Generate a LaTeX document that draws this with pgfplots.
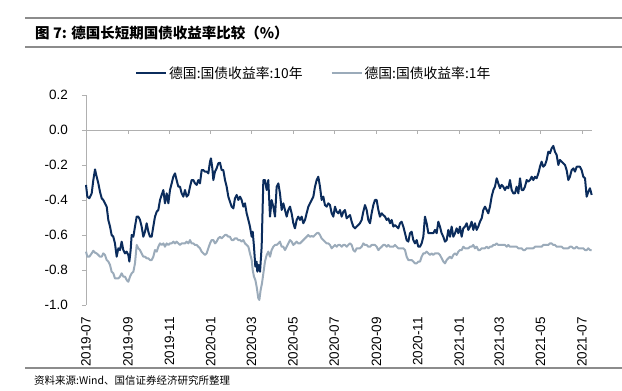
\documentclass[border=0pt]{standalone}
\usepackage{pgfplots}
\pgfplotsset{compat=1.18}
\usepackage{pgfplotstable}
\usepackage{fontspec}
\setmainfont{Liberation Sans}
\newfontfamily\cjk{Noto Sans CJK SC}

\definecolor{tenY}{HTML}{0B2C5C}
\definecolor{oneY}{HTML}{9BABBA}
\definecolor{axgray}{HTML}{B0B0B0}
\definecolor{rulegray}{HTML}{8C8C8C}

% x = days since 2019-07-01, v = yield (%)
\pgfplotstableread{
d v
0 -0.314
2.0 -0.381
4.9 -0.390
8.4 -0.362
10.8 -0.286
13.3 -0.225
15.7 -0.267
18.2 -0.305
20.6 -0.352
23.1 -0.390
25.5 -0.400
28.0 -0.419
30.5 -0.438
32.9 -0.514
35.4 -0.552
37.8 -0.600
40.3 -0.610
42.7 -0.648
45.2 -0.724
47.7 -0.676
50.1 -0.686
52.6 -0.638
55.0 -0.686
57.5 -0.705
59.9 -0.695
62.4 -0.714
63.9 -0.752
65.8 -0.686
67.3 -0.600
69.8 -0.610
72.2 -0.552
74.7 -0.495
77.1 -0.495
79.6 -0.514
82.0 -0.552
84.5 -0.610
87.0 -0.581
89.4 -0.533
91.9 -0.581
94.3 -0.610
96.8 -0.610
99.2 -0.552
101.7 -0.495
104.2 -0.467
106.6 -0.457
109.1 -0.400
111.5 -0.371
114.0 -0.343
116.4 -0.419
118.9 -0.362
121.4 -0.419
123.8 -0.343
126.3 -0.305
128.7 -0.267
131.2 -0.248
133.6 -0.286
136.1 -0.324
138.5 -0.324
141.0 -0.362
143.5 -0.381
145.9 -0.343
148.4 -0.381
150.8 -0.371
153.3 -0.324
155.7 -0.286
158.2 -0.286
160.7 -0.305
163.1 -0.314
165.6 -0.286
168.0 -0.305
170.5 -0.229
172.9 -0.229
175.4 -0.238
177.8 -0.238
180.3 -0.248
182.8 -0.181
184.2 -0.162
186.2 -0.219
187.7 -0.286
190.1 -0.238
192.6 -0.219
195.0 -0.190
197.5 -0.187
200.0 -0.229
202.4 -0.229
204.9 -0.286
207.3 -0.324
209.8 -0.381
212.2 -0.410
214.7 -0.438
217.2 -0.448
219.6 -0.390
222.1 -0.371
224.5 -0.400
227.0 -0.381
229.4 -0.400
231.9 -0.438
234.3 -0.419
236.8 -0.476
239.3 -0.514
241.7 -0.552
244.2 -0.610
245.7 -0.581
247.6 -0.667
249.6 -0.781
251.5 -0.752
252.5 -0.810
254.5 -0.771
256.5 -0.810
258.9 -0.667
261.4 -0.286
263.8 -0.286
266.3 -0.343
268.7 -0.286
271.2 -0.495
273.6 -0.400
276.1 -0.438
278.6 -0.495
281.0 -0.324
283.5 -0.305
285.9 -0.362
288.4 -0.457
290.8 -0.419
293.3 -0.457
295.8 -0.495
298.2 -0.457
300.7 -0.438
303.1 -0.476
305.6 -0.533
308.0 -0.562
310.5 -0.514
312.9 -0.495
315.4 -0.514
317.9 -0.495
320.3 -0.533
322.8 -0.514
325.2 -0.476
327.7 -0.438
330.1 -0.419
332.6 -0.400
335.1 -0.381
337.5 -0.324
340.0 -0.286
342.4 -0.267
344.9 -0.324
347.3 -0.400
349.8 -0.381
352.2 -0.429
354.7 -0.438
357.2 -0.419
359.6 -0.429
362.1 -0.476
364.5 -0.495
367.0 -0.438
369.4 -0.467
371.9 -0.476
374.4 -0.457
376.8 -0.495
379.3 -0.467
381.7 -0.457
384.2 -0.505
386.6 -0.495
389.1 -0.486
391.6 -0.524
394.0 -0.552
396.5 -0.562
398.9 -0.552
401.4 -0.543
403.8 -0.533
406.3 -0.514
408.7 -0.467
411.2 -0.429
413.7 -0.457
416.1 -0.514
418.6 -0.533
421.0 -0.476
423.5 -0.429
425.9 -0.400
428.4 -0.400
430.9 -0.457
433.3 -0.495
435.8 -0.476
438.2 -0.486
440.7 -0.495
443.1 -0.514
445.6 -0.505
448.1 -0.533
450.5 -0.514
453.0 -0.552
455.4 -0.543
457.9 -0.552
460.3 -0.562
462.8 -0.533
465.2 -0.524
467.7 -0.552
470.2 -0.590
472.6 -0.629
475.1 -0.638
477.5 -0.590
480.0 -0.581
482.4 -0.629
484.9 -0.648
487.4 -0.629
489.8 -0.667
492.3 -0.667
494.7 -0.648
497.2 -0.610
499.6 -0.495
502.1 -0.533
504.6 -0.590
507.0 -0.590
509.5 -0.590
511.9 -0.590
514.4 -0.571
516.8 -0.590
519.3 -0.524
521.7 -0.552
524.2 -0.590
526.7 -0.610
529.1 -0.638
531.6 -0.629
534.0 -0.571
536.5 -0.610
538.9 -0.552
541.4 -0.610
543.9 -0.590
546.3 -0.562
548.8 -0.590
551.2 -0.552
553.7 -0.610
556.1 -0.562
558.6 -0.552
561.1 -0.533
563.5 -0.571
566.0 -0.552
568.4 -0.524
570.9 -0.571
573.3 -0.533
575.8 -0.571
578.2 -0.552
580.7 -0.524
583.2 -0.505
585.6 -0.457
588.1 -0.438
590.5 -0.457
593.0 -0.476
595.4 -0.438
597.9 -0.381
600.4 -0.343
602.8 -0.324
605.3 -0.276
607.7 -0.305
610.2 -0.333
612.6 -0.314
615.1 -0.324
617.5 -0.343
620.0 -0.324
622.5 -0.333
624.9 -0.286
627.4 -0.343
629.8 -0.362
632.3 -0.362
634.7 -0.324
637.2 -0.362
639.7 -0.276
642.1 -0.343
644.6 -0.343
647.0 -0.324
649.5 -0.286
651.9 -0.295
654.4 -0.286
656.9 -0.267
659.3 -0.286
661.8 -0.267
664.2 -0.276
666.7 -0.248
669.1 -0.210
671.6 -0.181
674.0 -0.210
676.5 -0.200
679.0 -0.171
681.4 -0.124
683.9 -0.133
686.3 -0.105
688.8 -0.091
691.2 -0.124
693.7 -0.143
696.2 -0.200
698.6 -0.171
701.1 -0.181
703.5 -0.190
706.0 -0.200
708.4 -0.229
710.9 -0.286
713.3 -0.267
715.8 -0.229
718.3 -0.219
720.7 -0.238
723.2 -0.210
725.6 -0.210
728.1 -0.210
730.5 -0.229
733.0 -0.267
735.5 -0.276
737.9 -0.381
740.4 -0.352
742.8 -0.333
745.3 -0.371
}\tenyr

\pgfplotstableread{
d v
0 -0.695
2.0 -0.724
4.9 -0.724
8.4 -0.705
10.8 -0.690
13.3 -0.701
15.7 -0.705
18.2 -0.714
20.6 -0.724
23.1 -0.724
25.5 -0.705
28.0 -0.714
30.5 -0.743
32.9 -0.752
35.4 -0.771
37.8 -0.810
40.3 -0.819
42.7 -0.848
45.2 -0.848
47.7 -0.848
50.1 -0.838
52.6 -0.819
55.0 -0.838
57.5 -0.838
59.9 -0.857
62.4 -0.867
64.9 -0.838
67.3 -0.819
69.8 -0.810
72.2 -0.762
74.7 -0.657
77.1 -0.676
79.6 -0.686
82.0 -0.705
84.5 -0.724
87.0 -0.724
89.4 -0.733
91.9 -0.733
94.3 -0.743
96.8 -0.743
99.2 -0.724
101.7 -0.686
104.2 -0.695
106.6 -0.667
109.1 -0.648
111.5 -0.657
114.0 -0.648
116.4 -0.667
118.9 -0.648
121.4 -0.657
123.8 -0.648
126.3 -0.648
128.7 -0.638
131.2 -0.648
133.6 -0.638
136.1 -0.648
138.5 -0.657
141.0 -0.648
143.5 -0.648
145.9 -0.648
148.4 -0.638
150.8 -0.648
153.3 -0.629
155.7 -0.648
158.2 -0.648
160.7 -0.657
163.1 -0.657
165.6 -0.667
168.0 -0.676
170.5 -0.695
172.9 -0.705
175.4 -0.714
177.8 -0.705
180.3 -0.676
182.8 -0.648
185.2 -0.629
187.7 -0.629
190.1 -0.648
192.6 -0.638
195.0 -0.619
197.5 -0.610
200.0 -0.619
202.4 -0.610
204.9 -0.600
207.3 -0.600
209.8 -0.610
212.2 -0.610
214.7 -0.629
217.2 -0.629
219.6 -0.619
222.1 -0.619
224.5 -0.629
227.0 -0.629
229.4 -0.638
231.9 -0.629
234.3 -0.648
236.8 -0.657
239.3 -0.667
241.7 -0.705
244.2 -0.743
245.7 -0.800
247.6 -0.838
249.6 -0.857
251.5 -0.895
254.0 -0.962
255.5 -0.971
257.4 -0.914
259.4 -0.876
261.4 -0.819
263.8 -0.752
266.3 -0.714
268.7 -0.695
271.2 -0.724
273.6 -0.686
276.1 -0.667
278.6 -0.657
281.0 -0.657
283.5 -0.648
285.9 -0.638
288.4 -0.667
290.8 -0.667
293.3 -0.686
295.8 -0.667
298.2 -0.648
300.7 -0.629
303.1 -0.638
305.6 -0.657
308.0 -0.648
310.5 -0.638
312.9 -0.648
315.4 -0.648
320.3 -0.629
322.8 -0.619
325.2 -0.610
327.7 -0.600
330.1 -0.610
332.6 -0.606
335.1 -0.610
337.5 -0.600
340.0 -0.590
342.4 -0.587
344.9 -0.600
347.3 -0.619
349.8 -0.629
352.2 -0.638
354.7 -0.648
357.2 -0.648
359.6 -0.657
362.1 -0.676
364.5 -0.667
367.0 -0.657
369.4 -0.667
371.9 -0.657
374.4 -0.657
376.8 -0.667
379.3 -0.657
381.7 -0.657
384.2 -0.667
386.6 -0.657
389.1 -0.648
391.6 -0.657
394.0 -0.686
396.5 -0.695
398.9 -0.676
401.4 -0.676
403.8 -0.676
406.3 -0.667
408.7 -0.648
411.2 -0.657
413.7 -0.657
416.1 -0.667
418.6 -0.667
421.0 -0.657
423.5 -0.657
425.9 -0.657
428.4 -0.667
430.9 -0.686
433.3 -0.676
435.8 -0.667
438.2 -0.657
440.7 -0.657
443.1 -0.667
445.6 -0.657
448.1 -0.667
450.5 -0.667
453.0 -0.667
455.4 -0.657
457.9 -0.667
460.3 -0.676
462.8 -0.676
465.2 -0.676
467.7 -0.676
470.2 -0.686
472.6 -0.724
475.1 -0.743
477.5 -0.743
480.0 -0.743
482.4 -0.752
484.9 -0.762
487.4 -0.762
489.8 -0.752
492.3 -0.752
494.7 -0.724
497.2 -0.705
499.6 -0.705
502.1 -0.695
504.6 -0.705
507.0 -0.714
509.5 -0.705
511.9 -0.714
514.4 -0.705
516.8 -0.705
519.3 -0.705
521.7 -0.714
524.2 -0.733
526.7 -0.752
529.1 -0.762
531.6 -0.743
534.0 -0.733
536.5 -0.724
538.9 -0.733
541.4 -0.714
543.9 -0.705
546.3 -0.714
548.8 -0.695
551.2 -0.686
553.7 -0.686
556.1 -0.667
558.6 -0.676
561.1 -0.676
563.5 -0.676
566.0 -0.667
568.4 -0.667
570.9 -0.657
573.3 -0.676
575.8 -0.667
578.2 -0.686
580.7 -0.686
583.2 -0.676
585.6 -0.676
588.1 -0.676
590.5 -0.667
593.0 -0.676
595.4 -0.667
597.9 -0.667
600.4 -0.657
602.8 -0.657
605.3 -0.648
607.7 -0.657
610.2 -0.657
612.6 -0.657
615.1 -0.657
617.5 -0.657
620.0 -0.667
622.5 -0.657
624.9 -0.667
627.4 -0.667
629.8 -0.667
632.3 -0.667
634.7 -0.667
637.2 -0.676
639.7 -0.676
642.1 -0.676
644.6 -0.686
647.0 -0.686
649.5 -0.676
651.9 -0.676
654.4 -0.676
656.9 -0.676
659.3 -0.676
661.8 -0.667
664.2 -0.667
666.7 -0.667
669.1 -0.667
671.6 -0.667
674.0 -0.657
676.5 -0.657
679.0 -0.657
681.4 -0.657
683.9 -0.648
686.3 -0.648
688.8 -0.657
691.2 -0.657
693.7 -0.667
696.2 -0.667
698.6 -0.667
701.1 -0.667
703.5 -0.676
706.0 -0.676
708.4 -0.676
710.9 -0.676
713.3 -0.667
715.8 -0.667
718.3 -0.676
720.7 -0.676
723.2 -0.667
725.6 -0.676
728.1 -0.676
730.5 -0.676
733.0 -0.676
735.5 -0.686
737.9 -0.686
740.4 -0.676
742.8 -0.686
745.3 -0.686
}\oneyr

\begin{document}
\begin{tikzpicture}[x=1pt,y=1pt]
\useasboundingbox (0,0) rectangle (622,391);
\draw[rulegray, line width=2pt] (25,373) -- (622,373);
\draw[rulegray, line width=2pt] (25,344) -- (622,344);
\node[anchor=west, inner sep=0pt] at (35,358.5) {\cjk\bfseries\fontsize{14.5}{16}\selectfont 图 7: 德国长短期国债收益率比较（\%）};
\draw[rulegray, line width=1.5pt] (25,23) -- (622,23);
\node[anchor=west, inner sep=0pt] at (34,11) {\cjk\fontsize{10.5}{12}\selectfont 资料来源:Wind、国信证券经济研究所整理};
\begin{axis}[
  at={(86pt,86pt)}, anchor=south west,
  width=506pt, height=210pt, scale only axis,
  xmin=0, xmax=745.8, ymin=-1, ymax=0.2,
  axis y line*=left, axis x line*=middle,
  hide obscured x ticks=false, hide obscured y ticks=false,
  axis line style={axgray, line width=0.8pt},
  ytick={-1,-0.8,-0.6,-0.4,-0.2,0,0.2},
  yticklabels={-1.0,-0.8,-0.6,-0.4,-0.2,0.0,0.2},
  xtick={0,62,123,184,244,305,366,428,489,550,609,670,731},
  xticklabels={2019-07,2019-09,2019-11,2020-01,2020-03,2020-05,2020-07,2020-09,2020-11,2021-01,2021-03,2021-05,2021-07},
  tick align=outside, major tick length=4pt,
  tick style={axgray, line width=0.8pt},
  xticklabel style={yshift=-183pt, rotate=90, anchor=east, inner sep=0pt, font=\fontsize{13.5}{14}\selectfont},
  yticklabel style={anchor=east, inner sep=0pt, xshift=-14pt, font=\fontsize{13.5}{14}\selectfont},
  legend style={at={(0.0968,1.105)}, anchor=west, draw=none, fill=none, inner sep=0pt,
    legend columns=2, font=\cjk\fontsize{13.8}{15}\selectfont,
    /tikz/every even column/.append style={column sep=26pt}},
  legend image code/.code={\draw[#1] (0pt,0pt) -- (30pt,0pt);},
  clip=false,
]
\addplot[tenY, line width=2pt, line join=round] table[x=d,y=v] {\tenyr};
\addlegendentry{德国:国债收益率:10年}
\addplot[oneY, line width=2pt, line join=round] table[x=d,y=v] {\oneyr};
\addlegendentry{德国:国债收益率:1年}
\end{axis}
\end{tikzpicture}
\end{document}
